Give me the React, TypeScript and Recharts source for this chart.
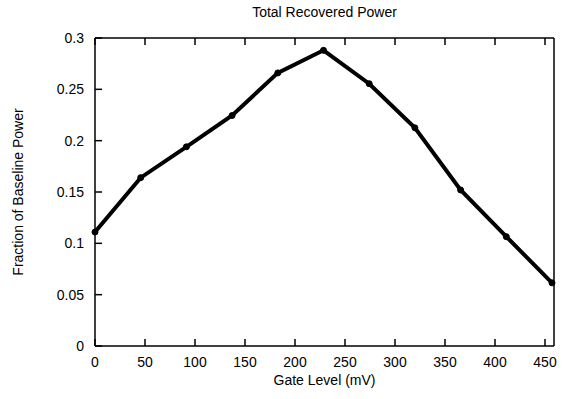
import React from 'react';
import { LineChart, Line, XAxis, YAxis } from 'recharts';

// gate level (mV) and recovered power fraction
const gateLevels = [0, 45.7, 91.4, 137.1, 182.8, 228.5, 274.2, 319.9, 365.6, 411.3, 457];
const recoveredPower = [0.111, 0.164, 0.194, 0.2245, 0.266, 0.288, 0.2555, 0.2125, 0.152, 0.1065, 0.0615];

const xTicks = [0, 50, 100, 150, 200, 250, 300, 350, 400, 450];
const yTicks = [0, 0.05, 0.1, 0.15, 0.2, 0.25, 0.3];

const data = gateLevels.map((g, i) => ({ gate: g, power: recoveredPower[i] }));

const font = '"Liberation Sans", Arial, sans-serif';
const TICK = 7;
const SW = 1.5;

const BottomTick = ({ x, y, payload }: any) => (
  <g>
    <line x1={x} x2={x} y1={y} y2={y - TICK} stroke="#000" strokeWidth={SW} />
    <text x={x} y={y + 21} textAnchor="middle" fontSize={14} fill="#000" fontFamily={font}>
      {payload.value}
    </text>
  </g>
);

const TopTick = ({ x, y }: any) => (
  <line x1={x} x2={x} y1={y} y2={y + TICK} stroke="#000" strokeWidth={SW} />
);

const LeftTick = ({ x, y, payload }: any) => (
  <g>
    <line x1={x} x2={x + TICK} y1={y} y2={y} stroke="#000" strokeWidth={SW} />
    <text x={x - 11} y={y + 5} textAnchor="end" fontSize={14} fill="#000" fontFamily={font}>
      {payload.value}
    </text>
  </g>
);

const RightTick = ({ x, y }: any) => (
  <line x1={x} x2={x - TICK} y1={y} y2={y} stroke="#000" strokeWidth={SW} />
);

const axisLine = { stroke: '#000', strokeWidth: SW };

export default function App() {
  return (
    <div style={{ position: 'absolute', left: 0, top: 0, width: 569, height: 399, background: '#fff', fontFamily: font }}>
      <div style={{ position: 'absolute', top: 4, left: 95, width: 459, textAlign: 'center', fontSize: 14, color: '#000' }}>
        Total Recovered Power
      </div>
      <div style={{ position: 'absolute', top: 372, left: 95, width: 459, textAlign: 'center', fontSize: 14, color: '#000' }}>
        Gate Level (mV)
      </div>
      <div
        style={{
          position: 'absolute',
          left: 18,
          top: 192,
          transform: 'translate(-50%, -50%) rotate(-90deg)',
          whiteSpace: 'nowrap',
          fontSize: 14,
          color: '#000',
        }}
      >
        Fraction of Baseline Power
      </div>
      <LineChart width={569} height={399} data={data} margin={{ top: 37, right: 14, left: 40, bottom: 23 }}>
        <XAxis
          dataKey="gate"
          type="number"
          domain={[0, 459]}
          ticks={xTicks}
          height={30}
          tickSize={0}
          tickMargin={0}
          tickLine={false}
          tick={<BottomTick />}
          axisLine={axisLine}
          interval={0}
        />
        <XAxis
          xAxisId="top"
          orientation="top"
          dataKey="gate"
          type="number"
          domain={[0, 459]}
          ticks={xTicks}
          height={1}
          tickSize={0}
          tickMargin={0}
          tickLine={false}
          tick={<TopTick />}
          axisLine={axisLine}
          interval={0}
        />
        <YAxis
          type="number"
          domain={[0, 0.3]}
          ticks={yTicks}
          width={55}
          tickSize={0}
          tickMargin={0}
          tickLine={false}
          tick={<LeftTick />}
          axisLine={axisLine}
          interval={0}
        />
        <YAxis
          yAxisId="right"
          orientation="right"
          type="number"
          domain={[0, 0.3]}
          ticks={yTicks}
          width={1}
          tickSize={0}
          tickMargin={0}
          tickLine={false}
          tick={<RightTick />}
          axisLine={axisLine}
          interval={0}
        />
        <Line
          dataKey="power"
          stroke="#000"
          strokeWidth={4}
          dot={{ r: 3, fill: '#000', stroke: '#000', strokeWidth: 1 }}
          isAnimationActive={false}
        />
      </LineChart>
    </div>
  );
}
